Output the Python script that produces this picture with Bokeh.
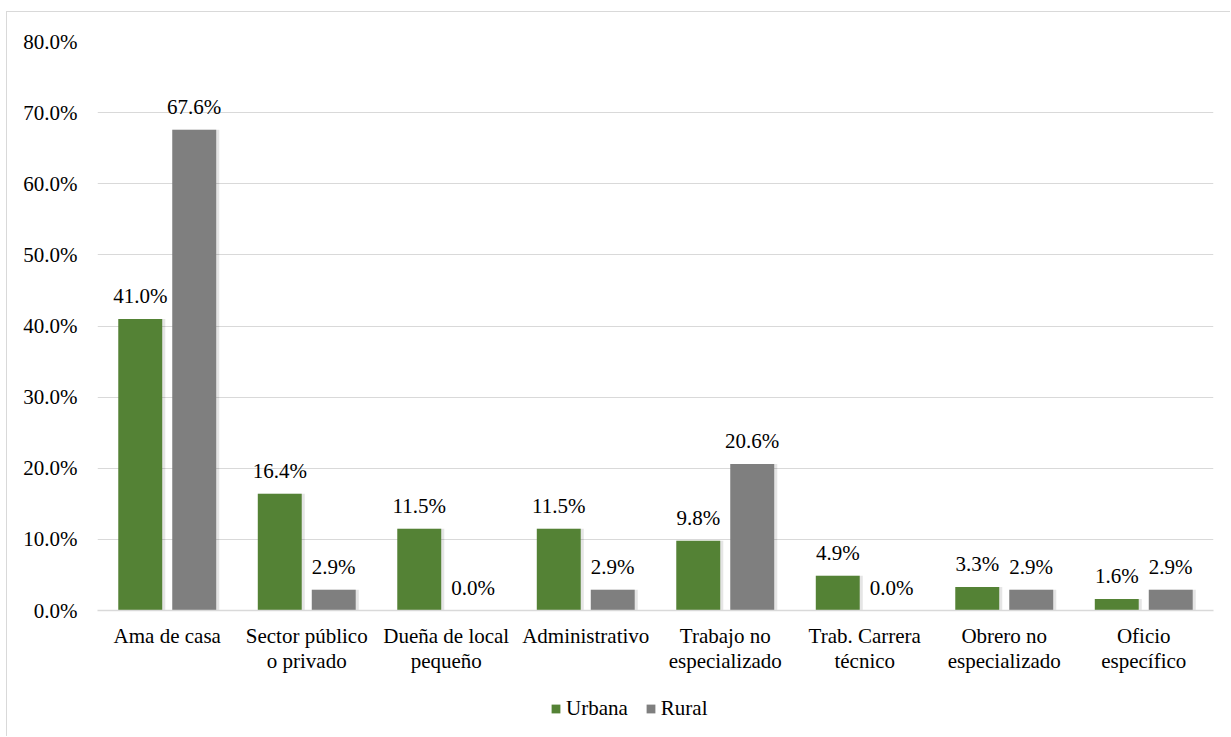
from bokeh.plotting import figure
from bokeh.models import (Range1d, Legend, LegendItem, LinearAxis,
                          PrintfTickFormatter, FixedTicker, ColumnDataSource)
from bokeh.layouts import column
from bokeh.transform import dodge
from bokeh.core.properties import value
from bokeh.embed import file_html
from bokeh.resources import INLINE

categories = ["Ama de casa", "Sector público o privado", "Dueña de local pequeño",
              "Administrativo", "Trabajo no especializado", "Trab. Carrera técnico",
              "Obrero no especializado", "Oficio específico"]
label_line1 = ["Ama de casa", "Sector público", "Dueña de local", "Administrativo",
               "Trabajo no", "Trab. Carrera", "Obrero no", "Oficio"]
label_line2 = ["", "o privado", "pequeño", "", "especializado", "técnico",
               "especializado", "específico"]
urbana = [41.0, 16.4, 11.5, 11.5, 9.8, 4.9, 3.3, 1.6]
rural = [67.6, 2.9, 0.0, 2.9, 20.6, 0.0, 2.9, 2.9]
y_ticks = [0, 10, 20, 30, 40, 50, 60, 70, 80]
series_names = ["Urbana", "Rural"]

GREEN = "#548235"
GRAY = "#7f7f7f"
FONT = "'Liberation Serif', 'Times New Roman', serif"
FS = "21px"

pos = list(range(1, len(categories) + 1))
src = ColumnDataSource(dict(
    pos=pos,
    urbana=urbana,
    rural=rural,
    ul=["%.1f%%" % v for v in urbana],
    rl=["%.1f%%" % v for v in rural],
))

p = figure(width=1224, height=678, x_range=Range1d(0.5, len(categories) + 0.5),
           y_range=Range1d(0, 80), output_backend="svg", toolbar_location=None,
           min_border_left=90, min_border_right=18, min_border_top=29,
           min_border_bottom=80, margin=(11, 0, 0, 6))
p.styles = {"border-left": "1px solid #d9d9d9", "border-top": "1px solid #d9d9d9"}
p.outline_line_color = None
p.background_fill_color = "white"
p.border_fill_color = "white"

off = 0.1935
bw = 0.315
# soft shadow behind bars
for col, o in [("urbana", -off), ("rural", off)]:
    p.vbar(x=dodge("pos", o + 0.012), top=col, width=bw + 0.02, source=src,
           fill_color="black", fill_alpha=0.10, line_color=None)
r1 = p.vbar(x=dodge("pos", -off), top="urbana", width=bw,
            source=src, fill_color=GREEN, line_color=None)
r2 = p.vbar(x=dodge("pos", off), top="rural", width=bw,
            source=src, fill_color=GRAY, line_color=None)

for col, lab, o in [("urbana", "ul", -off), ("rural", "rl", off)]:
    p.text(x=dodge("pos", o), y=col, text=lab, source=src,
           text_align="center", text_baseline="alphabetic", y_offset=-23,
           text_font=value(FONT), text_font_size=FS, text_color="black")

p.xgrid.grid_line_color = None
p.ygrid.grid_line_color = "#d9d9d9"
p.ygrid.grid_line_width = 1
p.yaxis.ticker = FixedTicker(ticks=y_ticks)
p.yaxis.formatter = PrintfTickFormatter(format="%.1f%%")
p.yaxis.axis_line_color = None
p.yaxis.major_tick_line_color = None
p.yaxis.minor_tick_line_color = None
p.yaxis.major_tick_out = 0
p.yaxis.minor_tick_out = 0
p.yaxis.major_label_standoff = 20
p.yaxis.major_label_text_font = FONT
p.yaxis.major_label_text_font_size = FS
p.yaxis.major_label_text_color = "black"

xa1 = p.xaxis[0]
xa1.ticker = FixedTicker(ticks=pos)
xa1.axis_line_color = "#d9d9d9"
xa1.axis_line_width = 1.5
xa1.major_tick_line_color = None
xa1.minor_tick_line_color = None
xa1.major_tick_out = 0
xa1.minor_tick_out = 0
xa1.major_label_standoff = 13
xa1.major_label_overrides = dict(zip(pos, label_line1))

xa2 = LinearAxis(ticker=FixedTicker(ticks=pos), axis_line_color=None,
                 major_tick_line_color=None, minor_tick_line_color=None,
                 major_tick_out=0, minor_tick_out=0, major_label_standoff=-2,
                 major_label_overrides=dict(zip(pos, label_line2)))
p.add_layout(xa2, "below")
for ax in (xa1, xa2):
    ax.major_label_text_font = FONT
    ax.major_label_text_font_size = FS
    ax.major_label_text_color = "black"

# legend strip
p2 = figure(width=1224, height=47, x_range=Range1d(0, 1), y_range=Range1d(0, 1),
            output_backend="svg", toolbar_location=None, min_border=0,
            margin=(0, 0, 0, 6))
p2.styles = {"border-left": "1px solid #d9d9d9"}
p2.axis.visible = False
p2.grid.visible = False
p2.outline_line_color = None
p2.border_fill_color = "white"
p2.background_fill_color = "white"
lr1 = p2.vbar(x=[0.5], top=[0], bottom=[0], width=0.0, fill_color=GREEN,
              line_color=None)
lr2 = p2.vbar(x=[0.5], top=[0], bottom=[0], width=0.0, fill_color=GRAY,
              line_color=None)
legend = Legend(items=[LegendItem(label=series_names[0], renderers=[lr1]),
                       LegendItem(label=series_names[1], renderers=[lr2])],
                orientation="horizontal", location=(453, 15),
                glyph_width=11, glyph_height=11, label_standoff=5, spacing=17,
                padding=0, margin=0, border_line_color=None,
                background_fill_alpha=0, label_text_font=FONT,
                label_text_font_size=FS, label_text_color="black")
p2.add_layout(legend, "center")

layout = column(p, p2, spacing=0)
open("out.html", "w").write(file_html(layout, INLINE))
